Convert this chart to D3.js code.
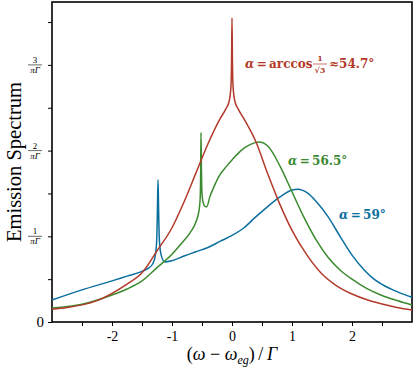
<!DOCTYPE html>
<html>
<head>
<meta charset="utf-8">
<script src="https://cdn.jsdelivr.net/npm/d3@7"></script>
<style>
  body { margin: 0; background: #fff; }
  text { font-family: "Liberation Serif", "DejaVu Serif", serif; }
</style>
</head>
<body>
<div id="chart"></div>
<script>
// data, y in units of 1/(pi Gamma)
var xTicks = [-2, -1, 0, 1, 2];
var yTickFracs = [1, 2, 3];

var redX = [-3, -2.75, -2.5, -2.25, -2, -1.75, -1.5, -1.25, -1.0, -0.8, -0.6, -0.4, -0.2, -0.1, -0.05, -0.02, -0.008, 0, 0.008, 0.02, 0.05, 0.1, 0.2, 0.4, 0.6, 0.8, 1.0, 1.25, 1.5, 1.75, 2, 2.25, 2.5, 2.75, 3];
var redY = [0.148, 0.17, 0.20, 0.25, 0.335, 0.443, 0.575, 0.83, 1.10, 1.40, 1.74, 2.08, 2.37, 2.49, 2.57, 2.72, 3.0, 3.55, 3.0, 2.72, 2.57, 2.49, 2.37, 2.10, 1.72, 1.37, 1.07, 0.78, 0.56, 0.42, 0.327, 0.26, 0.21, 0.17, 0.14];

var greenX = [-3, -2.5, -2, -1.75, -1.5, -1.25, -1.0, -0.85, -0.7, -0.6, -0.55, -0.53, -0.522, -0.517, -0.51, -0.5, -0.48, -0.45, -0.42, -0.37, -0.3, -0.2, -0.1, 0, 0.15, 0.3, 0.45, 0.6, 0.8, 1.0, 1.2, 1.4, 1.6, 1.8, 2.0, 2.25, 2.5, 2.75, 3];
var greenY = [0.163, 0.207, 0.315, 0.385, 0.48, 0.635, 0.79, 0.91, 1.04, 1.17, 1.30, 1.45, 1.75, 2.21, 1.80, 1.50, 1.39, 1.35, 1.345, 1.46, 1.58, 1.72, 1.81, 1.89, 2.00, 2.07, 2.10, 2.05, 1.82, 1.52, 1.22, 0.96, 0.755, 0.607, 0.50, 0.39, 0.31, 0.25, 0.198];

var blueX = [-3, -2.5, -2, -1.75, -1.5, -1.4, -1.32, -1.28, -1.255, -1.243, -1.233, -1.223, -1.21, -1.18, -1.12, -1.0, -0.8, -0.6, -0.4, -0.2, 0, 0.2, 0.4, 0.6, 0.8, 1.0, 1.1, 1.25, 1.4, 1.6, 1.8, 2.0, 2.2, 2.35, 2.5, 2.75, 3];
var blueY = [0.257, 0.375, 0.48, 0.535, 0.59, 0.625, 0.68, 0.77, 0.95, 1.30, 1.66, 1.30, 0.95, 0.78, 0.70, 0.715, 0.77, 0.82, 0.87, 0.94, 1.01, 1.10, 1.23, 1.35, 1.46, 1.54, 1.55, 1.51, 1.41, 1.23, 1.0, 0.78, 0.61, 0.51, 0.44, 0.354, 0.288];

var svgWidth = 415;
var svgHeight = 367;
var margin = { top: 2, right: 3, bottom: 45, left: 52 };
var width = svgWidth - margin.left - margin.right;
var height = svgHeight - margin.top - margin.bottom;

var svg = d3.select("#chart").append("svg")
  .attr("width", svgWidth)
  .attr("height", svgHeight);

var chartGroup = svg.append("g")
  .attr("transform", `translate(${margin.left}, ${margin.top})`);

var xScale = d3.scaleLinear().domain([-3, 3]).range([0, width]);
var yScale = d3.scaleLinear().domain([0, 3.734]).range([height, 0]);

// axes: ticks every half unit, labels only on whole units
var bottomAxis = d3.axisBottom(xScale)
  .tickValues(d3.range(-2.5, 3, 0.5))
  .tickSize(4)
  .tickFormat(d => xTicks.includes(d) ? (d < 0 ? "-" + Math.abs(d) : d) : "");
var leftAxis = d3.axisLeft(yScale)
  .tickValues(d3.range(0, 3.6, 0.5))
  .tickSize(4)
  .tickFormat("");

var gx = chartGroup.append("g")
  .attr("transform", `translate(0, ${height})`)
  .call(bottomAxis);
gx.select(".domain").remove();
gx.selectAll("text").attr("font-size", 14).attr("dy", "0.88em")
  .style("font-family", "Liberation Serif, serif");

var gy = chartGroup.append("g").call(leftAxis);
gy.select(".domain").remove();

// y tick labels: 0 and fractions n/(pi Gamma)
chartGroup.append("text")
  .attr("x", -8).attr("y", yScale(0) + 5)
  .attr("text-anchor", "end").attr("font-size", 15)
  .text("0");

yTickFracs.forEach(function(n) {
  var g = chartGroup.append("g")
    .attr("transform", `translate(${-17}, ${yScale(n)})`);
  g.append("text").attr("x", 0).attr("y", -2)
    .attr("text-anchor", "middle").attr("font-size", 9).attr("fill", "#000").text(n);
  g.append("line").attr("x1", -7).attr("x2", 7)
    .attr("stroke", "#000").attr("stroke-width", 0.6);
  g.append("text").attr("x", 0).attr("y", 8)
    .attr("text-anchor", "middle").attr("font-size", 9).attr("fill", "#000")
    .attr("font-style", "italic").text("\u03c0\u0393");
});

// frame
chartGroup.append("rect")
  .attr("x", 0).attr("y", 0)
  .attr("width", width).attr("height", height)
  .attr("fill", "none").attr("stroke", "#000").attr("stroke-width", 1.6);

// curves
var line = d3.line()
  .x(d => xScale(d[0]))
  .y(d => yScale(d[1]))
  .curve(d3.curveMonotoneX);

var series = [
  { xs: blueX, ys: blueY, color: "#0b6f9e" },
  { xs: greenX, ys: greenY, color: "#3b8a2f" },
  { xs: redX, ys: redY, color: "#b23a2a" }
];

series.forEach(function(s) {
  chartGroup.append("path")
    .datum(s.xs.map((x, i) => [x, s.ys[i]]))
    .attr("fill", "none")
    .attr("stroke", s.color)
    .attr("stroke-width", 1.5)
    .attr("d", line);
});

// curve labels
var labFont = "DejaVu Serif, serif";
var red = chartGroup.append("text")
  .attr("x", 193).attr("y", 66)
  .style("font-family", labFont)
  .attr("fill", "#b23a2a").attr("font-size", 12).attr("font-weight", "bold");
red.append("tspan").attr("font-style", "italic").text("\u03b1");
red.append("tspan").text("\u2009=\u2009arccos");
chartGroup.append("text").attr("x", 268).attr("y", 59)
  .style("font-family", labFont)
  .attr("text-anchor", "middle").attr("fill", "#b23a2a")
  .attr("font-size", 8).attr("font-weight", "bold").text("1");
chartGroup.append("line").attr("x1", 261).attr("x2", 275)
  .attr("y1", 62).attr("y2", 62)
  .attr("stroke", "#b23a2a").attr("stroke-width", 0.7);
chartGroup.append("text").attr("x", 268).attr("y", 71)
  .style("font-family", labFont)
  .attr("text-anchor", "middle").attr("fill", "#b23a2a")
  .attr("font-size", 8).attr("font-weight", "bold").text("\u221a3");
chartGroup.append("text")
  .attr("x", 277).attr("y", 66)
  .style("font-family", labFont)
  .attr("fill", "#b23a2a").attr("font-size", 12).attr("font-weight", "bold")
  .text("\u224854.7\u00b0");

var green = chartGroup.append("text")
  .attr("x", 236).attr("y", 163)
  .style("font-family", labFont)
  .attr("fill", "#3b8a2f").attr("font-size", 12).attr("font-weight", "bold");
green.append("tspan").attr("font-style", "italic").text("\u03b1");
green.append("tspan").text("\u2009=\u200956.5\u00b0");

var blue = chartGroup.append("text")
  .attr("x", 287).attr("y", 217)
  .style("font-family", labFont)
  .attr("fill", "#0b6f9e").attr("font-size", 12).attr("font-weight", "bold");
blue.append("tspan").attr("font-style", "italic").text("\u03b1");
blue.append("tspan").text("\u2009=\u200959\u00b0");

// axis titles
chartGroup.append("text")
  .attr("transform", "rotate(-90)")
  .attr("x", -(162 - margin.top)).attr("y", -31)
  .attr("text-anchor", "middle").attr("font-size", 20.5)
  .text("Emission Spectrum");

var xl = chartGroup.append("text")
  .attr("x", width / 2).attr("y", height + 38)
  .attr("text-anchor", "middle").attr("font-size", 18);
xl.append("tspan").text("(");
xl.append("tspan").attr("font-style", "italic").text("\u03c9");
xl.append("tspan").text(" \u2212 ");
xl.append("tspan").attr("font-style", "italic").text("\u03c9");
xl.append("tspan").attr("font-style", "italic").attr("font-size", 12).attr("dy", 4).text("eg");
xl.append("tspan").attr("dy", -4).text(")\u2009/\u2009");
xl.append("tspan").attr("font-style", "italic").text("\u0393");
</script>
</body>
</html>
